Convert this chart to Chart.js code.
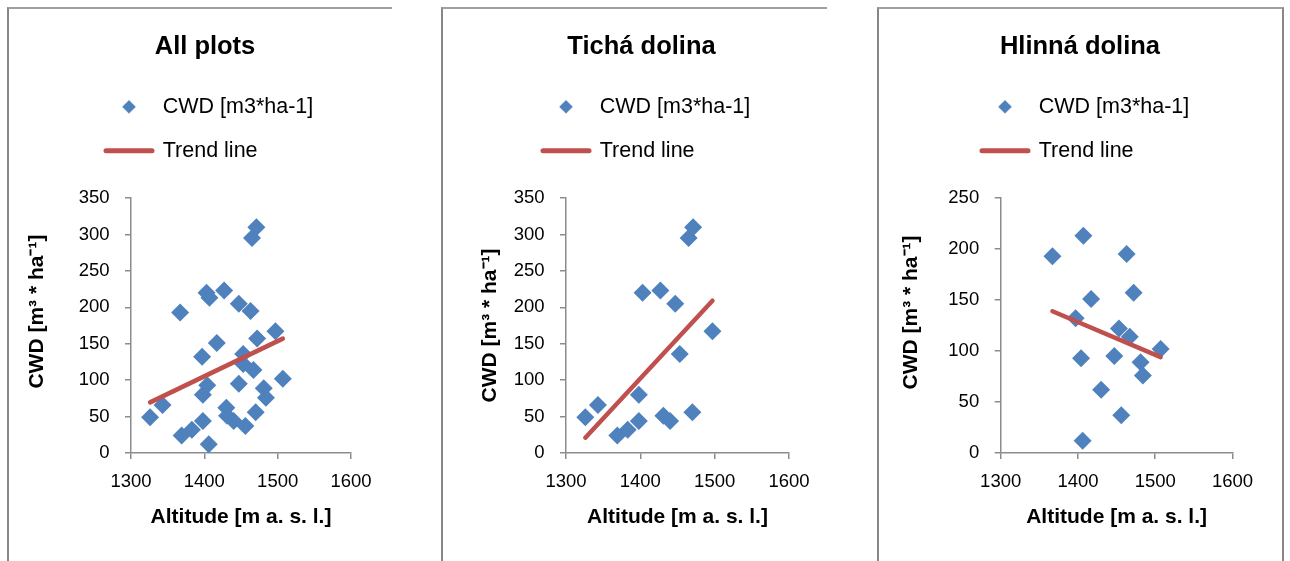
<!DOCTYPE html>
<html>
<head>
<meta charset="utf-8">
<script src="https://cdn.jsdelivr.net/npm/chart.js@4.4.1/dist/chart.umd.min.js"></script>
<style>
  html, body { margin: 0; padding: 0; background: #ffffff; }
  body { width: 1290px; height: 561px; position: relative; overflow: hidden; }
  canvas { position: absolute; top: 0; }
  .frame { position: absolute; top: 7px; height: 620px; box-sizing: border-box;
           border-left: 2px solid #878787; border-top: 2px solid #a0a0a0; }
</style>
</head>
<body>
<div class="frame" style="left:7px; width:385px;"></div>
<div class="frame" style="left:441px; width:386px;"></div>
<div class="frame" style="left:877px; width:407px; border-right:2px solid #878787;"></div>
<canvas id="c1" width="390" height="561" style="left:10px;"></canvas>
<canvas id="c2" width="393" height="561" style="left:445px;"></canvas>
<canvas id="c3" width="402" height="561" style="left:879px;"></canvas>
<script>
// ---------------- data ----------------
const panelTitles = ['All plots', 'Tichá dolina', 'Hlinná dolina'];
const seriesLabel = 'CWD [m3*ha-1]';
const trendLabel = 'Trend line';
const xAxisTitle = 'Altitude [m a. s. l.]';
const yAxisTitle = 'CWD [m³ * ha⁻¹]';

const tichaAltitude = [1326, 1343, 1369, 1383, 1398, 1398, 1403, 1427, 1431, 1440, 1447, 1453, 1465, 1471, 1470, 1497];
const tichaCwd      = [  49,   66,   24,   32,   44,   80,  220,  223,   51,   44,  205,  136,  295,  310,   56,  167];

const hlinnaAltitude = [1367, 1407, 1463, 1472, 1417, 1397, 1453, 1467, 1404, 1447, 1481, 1484, 1507, 1430, 1456, 1406];
const hlinnaCwd      = [ 193,  213,  195,  157,  151,  132,  122,  114,   93,   95,   89,   76,  102,   62,   37,   12];

// "All plots" = both valleys together
const allAltitude = tichaAltitude.concat(hlinnaAltitude);
const allCwd = tichaCwd.concat(hlinnaCwd);

// trend line end points
const allTrendAltitude = [1326, 1507];
const allTrendCwd      = [69.5, 157];
const tichaTrendAltitude = [1326, 1497];
const tichaTrendCwd      = [21, 209];
const hlinnaTrendAltitude = [1367, 1507];
const hlinnaTrendCwd      = [139, 94];

// tick labels
const xTicks = [1300, 1400, 1500, 1600];
const yTicks350 = [0, 50, 100, 150, 200, 250, 300, 350];
const yTicks250 = [0, 50, 100, 150, 200, 250];

// ---------------- styling ----------------
const BLUE = '#4F81BD';
const RED = '#C0504D';
const AXIS = '#8c8c8c';
Chart.defaults.font.family = "'Liberation Sans', Arial, sans-serif";
Chart.defaults.color = '#000';

// small diamond used as the legend marker of the scatter series
const legendDiamond = document.createElement('canvas');
legendDiamond.width = 16; legendDiamond.height = 16;
(function () {
  const g = legendDiamond.getContext('2d');
  g.fillStyle = BLUE;
  g.beginPath();
  g.moveTo(8, 1.2); g.lineTo(14.8, 8); g.lineTo(8, 14.8); g.lineTo(1.2, 8);
  g.closePath(); g.fill();
})();

function legendLabels(chart) {
  const items = Chart.defaults.plugins.legend.labels.generateLabels(chart);
  items.sort((a, b) => a.datasetIndex - b.datasetIndex);
  for (const it of items) {
    if (it.datasetIndex === 0) {
      it.pointStyle = legendDiamond;
      it.lineWidth = 0;
    } else {
      it.pointStyle = 'line';
      it.lineWidth = 5;
      it.strokeStyle = RED;
      it.lineCap = 'round';
    }
  }
  return items;
}

// Excel-like placement tweaks: legend gap below, legend left edge,
// title centred on the whole canvas, y-axis title shift.
const excelTweaks = {
  id: 'excelTweaks',
  beforeInit(chart, args, opts) {
    const lg = chart.legend;
    if (lg) {
      const fit = lg.fit;
      lg.fit = function () { fit.call(this); this.height += opts.legendGap; };
    }
  },
  afterLayout(chart, args, opts) {
    if (chart.titleBlock) { chart.titleBlock.left = 0; chart.titleBlock.right = chart.width; }
    if (chart.legend) {
      const w = chart.legend.width;
      chart.legend.left = opts.legendLeft;
      chart.legend.right = opts.legendLeft + w;
    }
    const ys = chart.scales.y;
    if (ys && !ys.__shifted) {
      const draw = ys.drawTitle;
      ys.drawTitle = function () {
        const t = this.top, b = this.bottom;
        this.top += opts.yTitleShift; this.bottom += opts.yTitleShift;
        draw.call(this);
        this.top = t; this.bottom = b;
      };
      ys.__shifted = true;
    }
  }
};

function toPoints(xs, ys) { return xs.map((x, i) => ({ x: x, y: ys[i] })); }
const plainNumber = v => String(v);

function makeChart(id, p) {
  return new Chart(document.getElementById(id), {
    type: 'scatter',
    data: {
      datasets: [
        {
          label: seriesLabel,
          data: toPoints(p.alt, p.cwd),
          pointStyle: 'rectRot',
          pointRadius: 9,
          pointHoverRadius: 9,
          backgroundColor: BLUE,
          borderColor: BLUE,
          borderWidth: 0,
          order: 1
        },
        {
          type: 'line',
          label: trendLabel,
          data: toPoints(p.tAlt, p.tCwd),
          borderColor: RED,
          backgroundColor: RED,
          borderWidth: 4.5,
          borderCapStyle: 'round',
          pointRadius: 0,
          pointStyle: 'line',
          fill: false,
          order: 0
        }
      ]
    },
    options: {
      responsive: false,
      animation: false,
      events: [],
      layout: { padding: { left: 0, right: p.padRight, top: 0, bottom: 0 } },
      plugins: {
        title: {
          display: true, text: p.title, color: '#000',
          font: { size: 25.5, weight: 'bold' },
          padding: { top: 31.4, bottom: 11.55 }
        },
        legend: {
          display: true, position: 'top', align: 'start',
          labels: {
            usePointStyle: true, pointStyleWidth: 46, boxHeight: 10,
            padding: 22.5, color: '#000', font: { size: 21.5 },
            generateLabels: legendLabels
          }
        },
        tooltip: { enabled: false },
        excelTweaks: { legendLeft: p.legendLeft, legendGap: 26.45, yTitleShift: p.yShift }
      },
      scales: {
        x: {
          type: 'linear', position: 'bottom',
          min: xTicks[0], max: xTicks[xTicks.length - 1],
          afterBuildTicks: s => { s.ticks = xTicks.map(v => ({ value: v })); },
          afterFit: s => { s.height = 108; },
          grid: { display: true, drawOnChartArea: false, drawTicks: true, tickLength: 6, color: AXIS, lineWidth: 1.5 },
          border: { display: true, color: AXIS, width: 1.5 },
          ticks: { color: '#000', font: { size: 18.5 }, padding: 12.3, maxRotation: 0, autoSkip: false, callback: plainNumber },
          title: { display: true, text: xAxisTitle, color: '#000', font: { size: 21, weight: 'bold' }, padding: { top: 0, bottom: 30.9 } }
        },
        y: {
          type: 'linear', position: 'left',
          min: p.yTicks[0], max: p.yTicks[p.yTicks.length - 1],
          afterBuildTicks: s => { s.ticks = p.yTicks.map(v => ({ value: v })); },
          afterFit: s => { s.width = p.yWidth; },
          grid: { display: true, drawOnChartArea: false, drawTicks: true, tickLength: 6, color: AXIS, lineWidth: 1.5 },
          border: { display: true, color: AXIS, width: 1.5 },
          ticks: { color: '#000', font: { size: 18.5 }, padding: 15.5, autoSkip: false, callback: plainNumber },
          title: { display: true, text: yAxisTitle, color: '#000', font: { size: 21, weight: 'bold' }, padding: { top: p.yTitlePad, bottom: 0 } }
        }
      }
    },
    plugins: [excelTweaks]
  });
}

makeChart('c1', {
  title: panelTitles[0], alt: allAltitude, cwd: allCwd,
  tAlt: allTrendAltitude, tCwd: allTrendCwd, yTicks: yTicks350,
  padRight: 49, yWidth: 121, yTitlePad: 14.4, yShift: -13.9, legendLeft: 73.5
});
makeChart('c2', {
  title: panelTitles[1], alt: tichaAltitude, cwd: tichaCwd,
  tAlt: tichaTrendAltitude, tCwd: tichaTrendCwd, yTicks: yTicks350,
  padRight: 49, yWidth: 121, yTitlePad: 32.4, yShift: 0, legendLeft: 75.5
});
makeChart('c3', {
  title: panelTitles[2], alt: hlinnaAltitude, cwd: hlinnaCwd,
  tAlt: hlinnaTrendAltitude, tCwd: hlinnaTrendCwd, yTicks: yTicks250,
  padRight: 48.5, yWidth: 121.7, yTitlePad: 20.1, yShift: -13, legendLeft: 80.5
});
</script>
</body>
</html>
